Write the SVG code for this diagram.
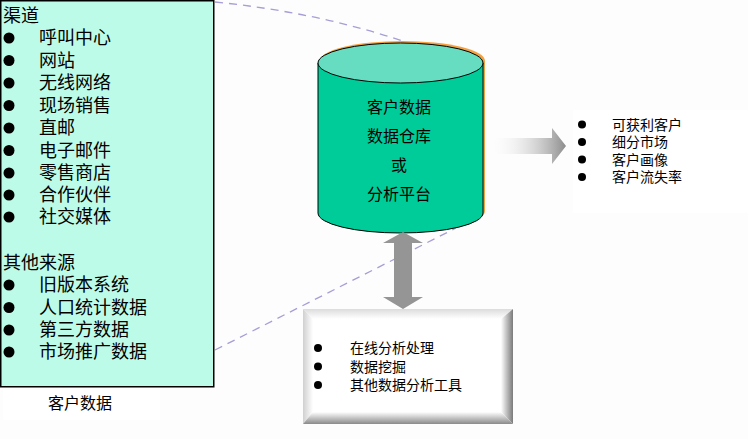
<svg xmlns="http://www.w3.org/2000/svg" width="748" height="439" viewBox="0 0 748 439">
  <defs>
    <linearGradient id="arrowGrad" x1="0" y1="0" x2="1" y2="0">
      <stop offset="0" stop-color="#ffffff" stop-opacity="0"/>
      <stop offset="1" stop-color="#8c8c8c"/>
    </linearGradient>
    <linearGradient id="bevTop" x1="0" y1="0" x2="0" y2="1">
      <stop offset="0" stop-color="#dcdcdc"/>
      <stop offset="1" stop-color="#ffffff"/>
    </linearGradient>
    <linearGradient id="bevLeft" x1="0" y1="0" x2="1" y2="0">
      <stop offset="0" stop-color="#d0d0d0"/>
      <stop offset="1" stop-color="#ffffff"/>
    </linearGradient>
    <linearGradient id="bevRight" x1="0" y1="0" x2="1" y2="0">
      <stop offset="0" stop-color="#ffffff"/>
      <stop offset="1" stop-color="#7a7a7a"/>
    </linearGradient>
    <linearGradient id="bevBottom" x1="0" y1="0" x2="0" y2="1">
      <stop offset="0" stop-color="#ffffff"/>
      <stop offset="1" stop-color="#8a8a8a"/>
    </linearGradient>
  </defs>
  <style>
    text { font-family: "Liberation Sans", "Noto Sans CJK SC", sans-serif; fill: #000; dominant-baseline: central; }
    .l { font-size: 18px; }
    .c { font-size: 16px; text-anchor: middle; }
    .s { font-size: 14px; }
    .dash { fill: none; stroke: #a69ed6; stroke-width: 1.3; stroke-dasharray: 8 6; }
    .bul { fill: #000; }
  </style>
  <rect x="0" y="0" width="748" height="439" fill="#fdfdfd"/>

  <g id="connectors">
    <path class="dash" d="M215,2 Q315,12 403,41"/>
    <path class="dash" d="M215,350 L456,228"/>
  </g>

  <g id="sources">
    <rect x="0.75" y="0.75" width="213" height="386" fill="#bdfbe9" stroke="#000" stroke-width="1.5"/>
    <text class="l" x="3" y="16">渠道</text>
    <g class="bul">
      <circle cx="9" cy="38" r="5.5"/>
      <circle cx="9" cy="60.5" r="5.5"/>
      <circle cx="9" cy="83" r="5.5"/>
      <circle cx="9" cy="105.5" r="5.5"/>
      <circle cx="9" cy="128" r="5.5"/>
      <circle cx="9" cy="150.5" r="5.5"/>
      <circle cx="9" cy="173" r="5.5"/>
      <circle cx="9" cy="195" r="5.5"/>
      <circle cx="9" cy="217" r="5.5"/>
      <circle cx="9" cy="285" r="5.5"/>
      <circle cx="9" cy="307.5" r="5.5"/>
      <circle cx="9" cy="330" r="5.5"/>
      <circle cx="9" cy="352" r="5.5"/>
    </g>
    <text class="l" x="39" y="38">呼叫中心</text>
    <text class="l" x="39" y="60.5">网站</text>
    <text class="l" x="39" y="83">无线网络</text>
    <text class="l" x="39" y="105.5">现场销售</text>
    <text class="l" x="39" y="128">直邮</text>
    <text class="l" x="39" y="150.5">电子邮件</text>
    <text class="l" x="39" y="173">零售商店</text>
    <text class="l" x="39" y="195">合作伙伴</text>
    <text class="l" x="39" y="217">社交媒体</text>
    <text class="l" x="3" y="263">其他来源</text>
    <text class="l" x="39" y="285">旧版本系统</text>
    <text class="l" x="39" y="307.5">人口统计数据</text>
    <text class="l" x="39" y="330">第三方数据</text>
    <text class="l" x="39" y="352">市场推广数据</text>
  </g>

  <g id="sources-label">
    <rect x="3" y="390" width="157" height="30" fill="#ffffff"/>
    <text class="c" x="80" y="403">客户数据</text>
  </g>

  <g id="warehouse">
    <path d="M320,61 A82.5,20 0 0 1 485,61 L485,211 A82.5,20 0 0 1 320,211 Z" fill="#f4a040"/>
    <path d="M318,63 L318,213 A82.5,20 0 0 0 483,213 L483,63 Z" fill="#00cc99" stroke="#000" stroke-width="1"/>
    <ellipse cx="400.5" cy="63" rx="82.5" ry="20" fill="#66ddc0" stroke="#000" stroke-width="1"/>
    <text class="c" x="399" y="107">客户数据</text>
    <text class="c" x="399" y="136">数据仓库</text>
    <text class="c" x="399" y="165">或</text>
    <text class="c" x="399" y="194">分析平台</text>
  </g>

  <g id="results">
    <rect x="573" y="110" width="175" height="103" fill="#ffffff"/>
    <circle class="bul" cx="582" cy="124.5" r="4"/>
    <circle class="bul" cx="582" cy="142" r="4"/>
    <circle class="bul" cx="582" cy="159.5" r="4"/>
    <circle class="bul" cx="582" cy="177" r="4"/>
    <text class="s" x="612" y="124.5">可获利客户</text>
    <text class="s" x="612" y="142">细分市场</text>
    <text class="s" x="612" y="159.5">客户画像</text>
    <text class="s" x="612" y="177">客户流失率</text>
  </g>

  <g id="arrows">
    <polygon points="490,138 552,138 552,128 566,146 552,164 552,154 490,154" fill="url(#arrowGrad)"/>
    <polygon points="403,232 423,243 412,243 412,297 423,297 403,309 383,297 394,297 394,243 383,243" fill="#959595"/>
  </g>

  <g id="tools">
    <rect x="303" y="309" width="210" height="115" fill="#ffffff"/>
    <polygon points="303,309 513,309 501,319 313,319" fill="url(#bevTop)"/>
    <polygon points="303,309 313,319 313,412 303,424" fill="url(#bevLeft)"/>
    <polygon points="513,309 513,424 501,412 501,319" fill="url(#bevRight)"/>
    <polygon points="303,424 313,412 501,412 513,424" fill="url(#bevBottom)"/>
    <circle class="bul" cx="318" cy="348" r="4"/>
    <circle class="bul" cx="318" cy="366.5" r="4"/>
    <circle class="bul" cx="318" cy="385" r="4"/>
    <text class="s" x="350" y="348">在线分析处理</text>
    <text class="s" x="350" y="366.5">数据挖掘</text>
    <text class="s" x="350" y="385">其他数据分析工具</text>
  </g>
</svg>
